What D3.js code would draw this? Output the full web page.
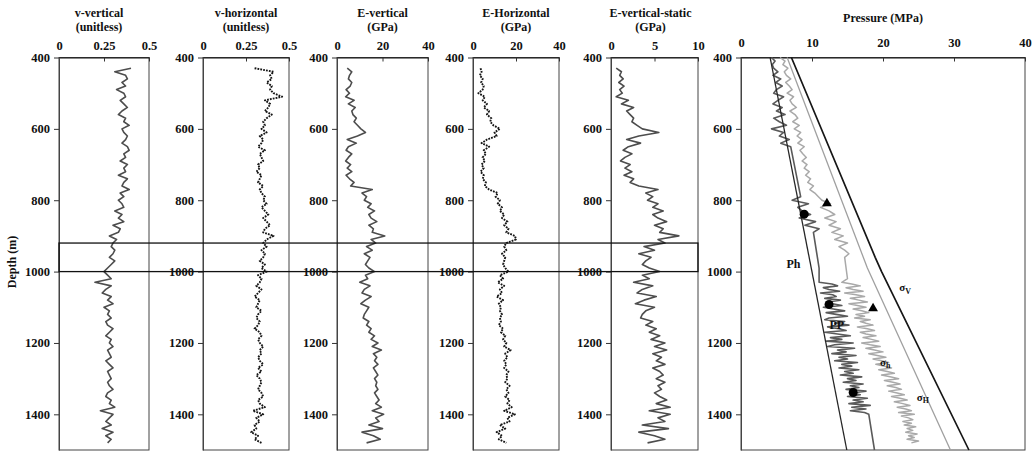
<!DOCTYPE html>
<html>
<head>
<meta charset="utf-8">
<script src="https://cdn.jsdelivr.net/npm/d3@7/dist/d3.min.js"></script>
<style>
  body { margin: 0; background: #fff; }
  svg text { font-family: "Liberation Serif", "Times New Roman", serif; font-weight: bold; fill: #111; }
</style>
</head>
<body>
<div id="chart"></div>
<script>
// log curves are sampled every 10 m starting at 430 m
const depthTop = 430, depthStep = 10;
const depthTicks = [400, 600, 800, 1000, 1200, 1400];

const vVertical = [
  0.40, 0.31, 0.37, 0.38, 0.35, 0.37, 0.32, 0.36, 0.37, 0.34,
  0.36, 0.38, 0.35, 0.33, 0.37, 0.36, 0.39, 0.35, 0.36, 0.38,
  0.37, 0.35, 0.38, 0.39, 0.36, 0.37, 0.34, 0.38, 0.36, 0.37,
  0.33, 0.38, 0.36, 0.35, 0.39, 0.34, 0.36, 0.33, 0.35, 0.36,
  0.31, 0.35, 0.33, 0.36, 0.30, 0.34, 0.33, 0.28, 0.32, 0.30,
  0.29, 0.31, 0.30, 0.28, 0.31, 0.29, 0.27, 0.25, 0.27, 0.29,
  0.20, 0.29, 0.26, 0.24, 0.29, 0.27, 0.30, 0.25, 0.28, 0.27,
  0.29, 0.26, 0.27, 0.30, 0.28, 0.26, 0.29, 0.28, 0.30, 0.27,
  0.28, 0.29, 0.26, 0.28, 0.30, 0.27, 0.28, 0.29, 0.27, 0.28,
  0.30, 0.27, 0.26, 0.29, 0.28, 0.31, 0.23, 0.30, 0.28, 0.26,
  0.29, 0.24, 0.30, 0.26, 0.29, 0.27
];

const vHorizontal = [
  0.30, 0.41, 0.39, 0.40, 0.37, 0.40, 0.39, 0.41, 0.46, 0.36,
  0.39, 0.38, 0.36, 0.40, 0.37, 0.35, 0.36, 0.34, 0.37, 0.33,
  0.35, 0.34, 0.32, 0.36, 0.33, 0.34, 0.35, 0.32, 0.33, 0.31,
  0.34, 0.33, 0.32, 0.35, 0.33, 0.34, 0.36, 0.35, 0.37, 0.34,
  0.36, 0.38, 0.35, 0.37, 0.39, 0.36, 0.35, 0.41, 0.37, 0.35,
  0.37, 0.34, 0.36, 0.35, 0.33, 0.36, 0.34, 0.37, 0.32, 0.34,
  0.33, 0.31, 0.34, 0.32, 0.30, 0.33, 0.32, 0.31, 0.34, 0.32,
  0.31, 0.33, 0.32, 0.30, 0.33, 0.34, 0.32, 0.33, 0.35, 0.33,
  0.34, 0.32, 0.33, 0.35, 0.32, 0.34, 0.31, 0.33, 0.34, 0.33,
  0.32, 0.34, 0.35, 0.32, 0.33, 0.36, 0.29, 0.35, 0.31, 0.33,
  0.30, 0.31, 0.28, 0.32, 0.30, 0.34
];

const eVertical = [
  4.5, 6.5, 5.5, 5.0, 6.5, 5.8, 4.0, 5.5, 3.8, 7.5,
  5.0, 8.0, 6.5, 7.0, 8.5, 7.5, 9.0, 10.5, 12.5, 9.0,
  4.5, 8.5, 5.0, 4.0, 6.5, 5.0, 3.8, 6.0, 4.5, 6.5,
  4.0, 5.5, 7.5, 6.0, 15.5, 11.0, 13.0, 12.0, 15.0, 13.5,
  16.5, 14.0, 15.0, 17.5, 14.0, 16.0, 15.5, 21.0, 15.0, 17.0,
  13.0, 15.5, 12.0, 14.5, 13.5, 12.5, 14.0, 16.5, 12.5, 13.5,
  10.0, 14.5, 12.0, 11.0, 15.0, 12.5, 10.5, 14.0, 13.0, 12.0,
  11.5, 14.0, 13.0, 15.0, 14.0, 16.5, 15.0, 18.0, 15.5, 19.5,
  16.0, 17.5, 16.5, 18.0, 16.0, 17.0, 18.0, 16.5, 17.5, 17.0,
  18.0, 16.5, 17.5, 18.5, 17.0, 19.5, 15.5, 20.5, 17.0, 18.5,
  14.0, 20.0, 11.0, 16.0, 19.0, 13.0
];

const eHorizontal = [
  3.5, 4.0, 3.2, 4.5, 3.8, 5.0, 4.5, 2.5, 5.5, 4.5,
  6.5, 5.0, 7.5, 6.5, 8.5, 8.0, 9.5, 12.5, 10.0, 11.0,
  6.5, 4.0, 7.5, 5.0, 6.0, 4.5, 5.5, 4.0, 5.0, 3.5,
  5.0, 4.5, 6.0, 5.5, 7.5, 11.5, 10.5, 12.5, 11.5, 13.5,
  12.5, 14.5, 13.5, 16.0, 14.5, 16.5, 15.5, 19.5, 20.0, 15.5,
  14.5, 15.5, 13.5, 15.0, 14.5, 14.0, 15.0, 16.5, 12.5, 14.0,
  11.5, 14.5, 12.5, 13.5, 11.0, 14.0, 12.0, 13.0, 12.5, 13.5,
  12.5, 13.0, 12.0, 14.0, 13.0, 15.0, 14.0, 15.5, 14.5, 17.5,
  15.0, 16.0, 14.5, 15.5, 14.5, 16.5, 15.5, 16.0, 15.0, 17.0,
  15.5, 16.5, 15.0, 17.0, 16.0, 18.0, 14.5, 19.5, 16.0, 17.0,
  12.5, 15.0, 11.0, 13.5, 12.0, 15.5
];

const eVerticalStatic = [
  0.6, 1.2, 1.0, 1.4, 0.9, 1.5, 1.0, 1.3, 0.6, 2.0,
  1.2, 2.6, 1.8, 2.2, 2.6, 2.4, 3.0, 3.6, 5.5, 3.2,
  1.8, 3.4, 2.0, 1.4, 2.4, 1.6, 1.1, 2.2, 1.6, 2.4,
  1.5, 2.6, 2.2, 3.2, 5.4, 4.0, 4.8, 4.2, 5.4, 4.8,
  6.0, 4.8, 5.4, 6.4, 5.0, 6.0, 5.6, 7.8, 5.4, 6.2,
  3.8, 5.0, 3.2, 4.6, 4.0, 3.6, 4.4, 5.6, 3.6, 4.4,
  2.6, 4.8, 3.6, 3.0, 5.2, 3.8, 2.8, 5.0, 4.0, 3.6,
  3.4, 4.8, 4.0, 5.2, 4.4, 5.6, 4.6, 6.2, 5.0, 6.4,
  4.8, 5.8, 5.2, 6.2, 4.8, 5.6, 6.0, 5.2, 6.2, 5.4,
  5.8, 5.0, 5.6, 6.4, 5.2, 6.8, 4.4, 6.8, 5.4, 6.2,
  3.6, 6.6, 3.2, 5.0, 6.2, 4.2
];

// pressure panel (MPa). Straight lines as [depth, MPa]
const hydrostatic = [[400, 4.1], [1500, 14.9]];
const sigmaV = [[400, 7.1], [960, 18.9], [1000, 19.8], [1500, 32.1]];
const sigmaHmax = [[400, 6.5], [990, 17.8], [1500, 29.5]];

// pore pressure: measured runs plus the straight joins between them
const ppUpper = [ // 400-650 m, every 10 m
  4.3, 4.8, 4.4, 4.6, 5.2, 4.5, 5.6, 4.9, 5.8, 5.0,
  4.6, 6.0, 5.2, 4.5, 5.8, 5.0, 6.2, 4.6, 5.4, 6.4,
  4.3, 6.0, 5.4, 6.8, 5.6, 7.0
];
const ppMiddle = [7.2, 9.5, 8.0, 8.6, 9.8, 8.2, 10.5, 9.0, 11.0]; // 800-880 m, every 10 m
const ppLower = [ // 1030-1400 m, every 5 m
  11.0, 12.8, 13.6, 11.6, 12.4, 13.9, 11.2, 12.9, 13.4, 11.8,
  14.0, 12.2, 12.9, 14.2, 11.6, 13.0, 14.6, 12.0, 13.4, 15.0,
  12.4, 11.8, 14.6, 13.2, 15.2, 12.2, 13.8, 14.8, 11.8, 13.6,
  15.4, 12.6, 14.2, 12.0, 15.8, 13.2, 12.2, 16.0, 13.6, 14.8,
  12.8, 16.2, 13.8, 15.0, 13.2, 16.4, 14.2, 15.6, 13.8, 16.6,
  14.6, 15.8, 14.0, 17.0, 15.0, 16.2, 14.4, 17.2, 15.4, 16.6,
  14.8, 17.6, 15.6, 16.8, 15.0, 17.8, 15.8, 17.2, 15.2, 18.2,
  15.6, 17.6, 15.4, 17.4, 18.0
];
const ppJoins = [[790, 8.4], [890, 10.2], [990, 11.0], [1500, 18.8]];

// minimum horizontal stress
const shUpper = [ // 400-950 m, every 10 m
  5.5, 6.2, 5.9, 6.6, 6.1, 6.4, 7.0, 6.3, 6.8, 7.2,
  6.5, 7.4, 6.9, 7.2, 7.8, 6.9, 7.6, 8.0, 7.3, 8.2,
  7.5, 8.4, 7.9, 8.6, 8.0, 8.9, 8.3, 8.7, 9.2, 8.6,
  9.3, 8.9, 9.6, 9.1, 9.8, 9.4, 10.2, 9.7, 10.4, 10.9,
  11.4, 12.6, 11.2, 12.4, 13.2, 11.8, 13.4, 12.4, 14.0, 12.8,
  14.4, 13.2, 15.0, 13.8, 14.6, 15.2
];
const shLower = [ // 1030-1480 m, every 5 m
  14.2, 15.6, 16.8, 14.8, 15.8, 17.2, 14.6, 16.2, 17.4, 15.4,
  16.6, 17.8, 15.2, 16.4, 17.6, 15.8, 17.0, 18.0, 16.2, 17.4,
  16.0, 18.2, 16.8, 17.6, 18.6, 16.4, 17.8, 18.8, 16.8, 17.6,
  19.0, 17.2, 18.4, 19.4, 17.0, 18.2, 19.6, 17.6, 18.8, 20.0,
  18.0, 19.2, 20.4, 18.6, 19.8, 20.8, 19.0, 20.2, 21.2, 19.4,
  20.6, 21.6, 19.8, 21.0, 22.2, 20.2, 21.4, 22.4, 20.6, 21.8,
  22.6, 20.8, 22.0, 23.0, 21.2, 22.4, 23.4, 21.6, 22.8, 23.8,
  22.0, 23.2, 24.0, 22.2, 24.4, 22.6, 23.6, 24.2, 22.8, 24.0,
  23.0, 24.6, 23.4, 24.2, 23.2, 24.8, 23.6, 24.4, 23.4, 25.0,
  24.0
];
const shJoins = [[960, 14.6], [1020, 15.0]];

const ppPoints = [[839, 8.9], [1092, 12.4], [1339, 15.8]];   // circles
const shPoints = [[809, 12.1], [1103, 18.6]];                // triangles

// set up
var svg = d3.select("#chart")
  .append("svg")
    .attr("width", 1033)
    .attr("height", 453);

var y = d3.scaleLinear().domain([400, 1500]).range([57.5, 450]);

var panels = [
  {x0: 59, x1: 149, domain: [0, 0.5], ticks: [0, 0.25, 0.5], title: ["v-vertical", "(unitless)"], dx: -5, values: vVertical, color: "#4d4d4d", dash: null},
  {x0: 203, x1: 289, domain: [0, 0.5], ticks: [0, 0.25, 0.5], title: ["v-horizontal", "(unitless)"], dx: 0, values: vHorizontal, color: "#161616", dash: "1.8,1.1"},
  {x0: 337, x1: 428, domain: [0, 40], ticks: [0, 20, 40], title: ["E-vertical", "(GPa)"], dx: 0, values: eVertical, color: "#4d4d4d", dash: null},
  {x0: 473, x1: 559, domain: [0, 40], ticks: [0, 20, 40], title: ["E-Horizontal", "(GPa)"], dx: 0, values: eHorizontal, color: "#161616", dash: "1.8,1.1"},
  {x0: 611, x1: 698, domain: [0, 10], ticks: [0, 5, 10], title: ["E-vertical-static", "(GPa)"], dx: -4, values: eVerticalStatic, color: "#4d4d4d", dash: null}
];

function drawFrame(x, x0, x1, ticks, pad) {
  // box
  svg.append("rect")
    .attr("x", x0).attr("y", y(400))
    .attr("width", x1 - x0).attr("height", y(1500) - y(400))
    .attr("fill", "none").attr("stroke", "#444").attr("stroke-width", 1);

  var top = svg.append("g")
    .attr("transform", "translate(0," + y(400) + ")")
    .call(d3.axisTop(x).tickValues(ticks).tickFormat(function(d) { return d; })
      .tickSizeInner(-4).tickSizeOuter(0).tickPadding(pad));
  top.select(".domain").attr("stroke", "#111").attr("stroke-width", 1.2);
  top.selectAll("line").attr("stroke", "#333");
  top.selectAll("text").attr("font-size", 12.5).attr("fill", "#111");

  var left = svg.append("g")
    .attr("transform", "translate(" + x0 + ",0)")
    .call(d3.axisLeft(y).tickValues(depthTicks).tickFormat(d3.format("d"))
      .tickSizeInner(5).tickSizeOuter(0).tickPadding(4));
  left.select(".domain").attr("stroke", "#444");
  left.selectAll("line").attr("stroke", "#333");
  left.selectAll("text").attr("font-size", 12.5).attr("fill", "#111");
}

panels.forEach(function(p) {
  var x = d3.scaleLinear().domain(p.domain).range([p.x0, p.x1]);
  drawFrame(x, p.x0, p.x1, p.ticks, 7.5);

  var cx = (p.x0 + p.x1) / 2 + p.dx;
  svg.append("text").attr("x", cx).attr("y", 16.5).attr("text-anchor", "middle")
    .attr("font-size", 12).text(p.title[0]);
  svg.append("text").attr("x", cx).attr("y", 30.5).attr("text-anchor", "middle")
    .attr("font-size", 12).text(p.title[1]);

  var line = d3.line()
    .x(function(d) { return x(d); })
    .y(function(d, i) { return y(depthTop + i * depthStep); });

  svg.append("path")
    .datum(p.values)
    .attr("d", line)
    .attr("fill", "none")
    .attr("stroke", p.color)
    .attr("stroke-width", p.dash ? 1.9 : 1.6)
    .attr("stroke-dasharray", p.dash)
    .attr("stroke-linejoin", "round");
});

// pressure panel
var xp = d3.scaleLinear().domain([0, 40]).range([741, 1025]);
drawFrame(xp, 741, 1025, [0, 10, 20, 30, 40], 10.5);

svg.append("text").attr("x", xp(20)).attr("y", 22).attr("text-anchor", "middle")
  .attr("font-size", 12).text("Pressure (MPa)");

function run(start, step, values) {
  return values.map(function(v, i) { return [start + i * step, v]; });
}
function joinRuns(parts) {
  return d3.merge(parts).sort(function(a, b) { return a[0] - b[0]; });
}

var porePressure = joinRuns([run(400, 10, ppUpper), run(800, 10, ppMiddle), run(1030, 5, ppLower), ppJoins]);
var sigmaHmin = joinRuns([run(400, 10, shUpper), run(1030, 5, shLower), shJoins]);

var pline = d3.line()
  .x(function(d) { return xp(d[1]); })
  .y(function(d) { return y(d[0]); });

var pcurves = [
  {data: sigmaHmin, color: "#a9a9a9", w: 1.5},
  {data: sigmaHmax, color: "#a0a0a0", w: 1.3},
  {data: porePressure, color: "#5a5a5a", w: 1.6},
  {data: hydrostatic, color: "#262626", w: 1.3},
  {data: sigmaV, color: "#161616", w: 1.7}
];
pcurves.forEach(function(c) {
  svg.append("path")
    .datum(c.data)
    .attr("d", pline)
    .attr("fill", "none")
    .attr("stroke", c.color)
    .attr("stroke-width", c.w)
    .attr("stroke-linejoin", "round");
});

svg.selectAll("circle.pp")
  .data(ppPoints)
  .enter()
  .append("circle")
    .attr("class", "pp")
    .attr("cx", function(d) { return xp(d[1]); })
    .attr("cy", function(d) { return y(d[0]); })
    .attr("r", 4.5)
    .attr("fill", "#000");

svg.selectAll("path.sh")
  .data(shPoints)
  .enter()
  .append("path")
    .attr("class", "sh")
    .attr("d", d3.symbol().type(d3.symbolTriangle).size(42))
    .attr("transform", function(d) { return "translate(" + xp(d[1]) + "," + y(d[0]) + ")"; })
    .attr("fill", "#000");

// curve labels
function curveLabel(mpa, depth, main, sub, size) {
  var t = svg.append("text")
    .attr("x", xp(mpa)).attr("y", y(depth))
    .attr("text-anchor", "middle")
    .attr("dy", "0.35em")
    .attr("font-size", size)
    .text(main);
  if (sub) {
    t.append("tspan").attr("font-size", size * 0.72).attr("dy", "0.35em").text(sub);
  }
}
curveLabel(7.4, 978, "Ph", null, 12);
curveLabel(13.5, 1150, "PP", null, 12);
curveLabel(23.1, 1043, "σ", "V", 11);
curveLabel(20.3, 1253, "σ", "h", 11);
curveLabel(25.6, 1351, "σ", "H", 11);

// highlighted depth interval across the log panels
svg.append("rect")
  .attr("x", 59).attr("y", y(920))
  .attr("width", 698 - 59).attr("height", y(1000) - y(920))
  .attr("fill", "none")
  .attr("stroke", "#111")
  .attr("stroke-width", 1.3);

// y axis label
svg.append("text")
  .attr("transform", "translate(16," + 262 + ")rotate(-90)")
  .attr("text-anchor", "middle")
  .attr("font-size", 12)
  .text("Depth (m)");
</script>
</body>
</html>
